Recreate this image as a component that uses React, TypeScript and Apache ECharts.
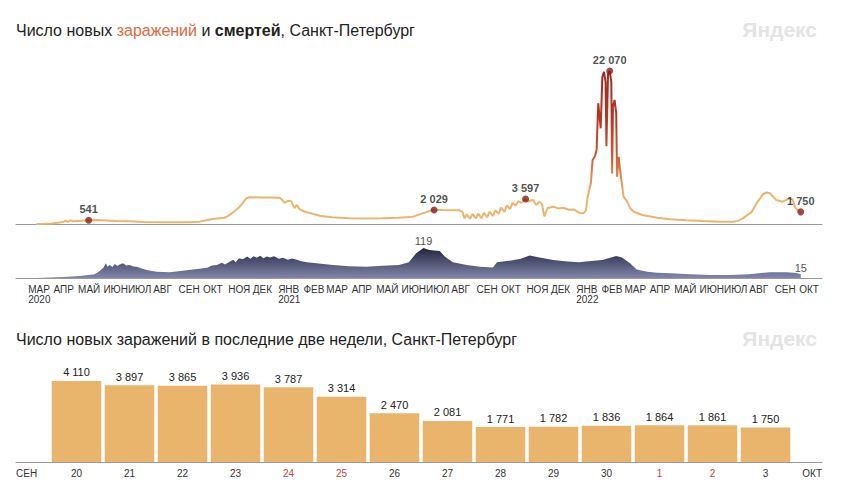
import React, { useEffect, useRef } from 'react';
import * as echarts from 'echarts';

const MONTHS = ['ЯНВ', 'ФЕВ', 'МАР', 'АПР', 'МАЙ', 'ИЮН', 'ИЮЛ', 'АВГ', 'СЕН', 'ОКТ', 'НОЯ', 'ДЕК'];

const caseDates = [
  '2020-03-11', '2020-03-20', '2020-03-30', '2020-04-08', '2020-04-13', '2020-04-16', '2020-04-18', '2020-04-22',
  '2020-04-25', '2020-04-29', '2020-05-05', '2020-05-10', '2020-05-14', '2020-05-23', '2020-06-05', '2020-06-17',
  '2020-07-03', '2020-07-19', '2020-08-13', '2020-09-03', '2020-09-15', '2020-09-27', '2020-10-13', '2020-10-27',
  '2020-10-31', '2020-11-06', '2020-11-15', '2020-11-23', '2020-11-27', '2020-12-10', '2020-12-20', '2021-01-03',
  '2021-01-06', '2021-01-09', '2021-01-13', '2021-01-17', '2021-01-21', '2021-01-24', '2021-01-27', '2021-02-02',
  '2021-02-08', '2021-02-21', '2021-03-08', '2021-03-29', '2021-04-19', '2021-05-09', '2021-05-29', '2021-06-15',
  '2021-06-27', '2021-07-06', '2021-07-11', '2021-07-21', '2021-08-11', '2021-08-15', '2021-08-17', '2021-08-20',
  '2021-08-24', '2021-08-27', '2021-08-31', '2021-09-03', '2021-09-07', '2021-09-10', '2021-09-14', '2021-09-17',
  '2021-09-21', '2021-09-24', '2021-09-28', '2021-10-01', '2021-10-05', '2021-10-08', '2021-10-12', '2021-10-15',
  '2021-10-19', '2021-10-22', '2021-10-26', '2021-10-31', '2021-11-03', '2021-11-09', '2021-11-13', '2021-11-17',
  '2021-11-20', '2021-11-23', '2021-11-27', '2021-12-04', '2021-12-10', '2021-12-16', '2021-12-23', '2021-12-29',
  '2022-01-05', '2022-01-10', '2022-01-13', '2022-01-15', '2022-01-19', '2022-01-21', '2022-01-24', '2022-01-26',
  '2022-01-28', '2022-01-31', '2022-02-02', '2022-02-04', '2022-02-06', '2022-02-07', '2022-02-09', '2022-02-11',
  '2022-02-13', '2022-02-14', '2022-02-15', '2022-02-17', '2022-02-19', '2022-02-20', '2022-02-22', '2022-02-24',
  '2022-02-28', '2022-03-04', '2022-03-08', '2022-03-12', '2022-03-23', '2022-04-10', '2022-04-26', '2022-05-16',
  '2022-06-05', '2022-06-26', '2022-07-12', '2022-07-18', '2022-07-24', '2022-08-04', '2022-08-11', '2022-08-18',
  '2022-08-22', '2022-08-26', '2022-09-03', '2022-09-11', '2022-09-19', '2022-09-23', '2022-09-26', '2022-09-29',
  '2022-10-03',
];
const caseValues = [
  0, 20, 80, 200, 330, 480, 300, 520,
  390, 450, 470, 520, 541, 570, 500, 430,
  380, 300, 250, 250, 270, 340, 720, 900,
  1100, 1600, 2500, 3700, 3850, 3830, 3840, 3800,
  3450, 3050, 3350, 3300, 2300, 2750, 2150, 1800,
  1600, 1200, 970, 830, 780, 820, 910, 1060,
  1540, 1900, 2029, 2010, 1980, 1700, 800, 1400,
  750, 1450, 800, 1500, 850, 1600, 950, 1800,
  1150, 2000, 1450, 2350, 1750, 2700, 2150, 3050,
  2650, 3300, 3050, 3597, 3250, 3460, 2750, 3220,
  2900, 1100, 2300, 2500, 2250, 2350, 2050, 2100,
  1600, 1550, 2000, 3900, 5900, 9200, 9800, 10700,
  17400, 13800, 21200, 21950, 20500, 11200, 21700, 22070,
  20500, 7300, 16900, 17900, 16000, 6800, 9700, 7500,
  3950, 3300, 2300, 1800, 1300, 900, 670, 530,
  430, 330, 320, 450, 820, 1750, 3200, 4300,
  4550, 4450, 3450, 3220, 3700, 3550, 2400, 2000,
  1750,
];

const highlightDates = ['2020-05-14', '2021-07-11', '2021-10-31', '2022-02-11', '2022-10-03'];
const highlightValues = [541, 2029, 3597, 22070, 1750];

const deathDates = [
  '2020-03-11', '2020-04-12', '2020-05-03', '2020-05-21', '2020-05-26', '2020-06-01', '2020-06-04', '2020-06-06',
  '2020-06-09', '2020-06-12', '2020-06-15', '2020-06-18', '2020-06-21', '2020-06-25', '2020-06-29', '2020-07-03',
  '2020-07-08', '2020-07-12', '2020-07-18', '2020-07-24', '2020-08-05', '2020-08-21', '2020-09-06', '2020-09-24',
  '2020-10-06', '2020-10-12', '2020-10-18', '2020-10-24', '2020-10-28', '2020-11-03', '2020-11-07', '2020-11-10',
  '2020-11-14', '2020-11-19', '2020-11-24', '2020-11-28', '2020-12-02', '2020-12-06', '2020-12-10', '2020-12-14',
  '2020-12-18', '2020-12-22', '2020-12-27', '2021-01-02', '2021-01-07', '2021-01-13', '2021-01-18', '2021-01-24',
  '2021-01-28', '2021-02-05', '2021-02-17', '2021-03-09', '2021-03-29', '2021-04-19', '2021-05-09', '2021-05-29',
  '2021-06-10', '2021-06-19', '2021-06-28', '2021-07-05', '2021-07-18', '2021-07-24', '2021-08-03', '2021-08-20',
  '2021-09-05', '2021-09-21', '2021-09-26', '2021-10-08', '2021-10-24', '2021-11-05', '2021-11-17', '2021-12-04',
  '2021-12-21', '2022-01-05', '2022-01-13', '2022-02-02', '2022-02-19', '2022-02-26', '2022-03-08', '2022-03-16',
  '2022-03-29', '2022-04-10', '2022-04-26', '2022-05-21', '2022-06-14', '2022-07-08', '2022-08-01', '2022-08-26',
  '2022-09-15', '2022-09-28', '2022-10-03',
];
const deathValues = [
  0, 4, 8, 15, 24, 41, 58, 45,
  52, 44, 55, 48, 54, 58, 50, 52,
  46, 45, 38, 32, 25, 23, 29, 36,
  41, 50, 52, 60, 54, 65, 72, 62,
  78, 74, 85, 76, 86, 80, 88, 78,
  85, 81, 86, 76, 80, 72, 77, 72,
  67, 62, 58, 52, 47, 45, 49, 52,
  62, 98, 119, 111, 107, 85, 62, 52,
  45, 42, 62, 67, 75, 89, 81, 71,
  65, 62, 65, 71, 87, 81, 58, 34,
  25, 21, 19, 15, 12, 12, 15, 23,
  23, 20, 15,
];
const deathLabelDates = ['2021-06-28', '2022-10-03'];
const deathLabelValues = [119, 15];

const barDays = ['20', '21', '22', '23', '24', '25', '26', '27', '28', '29', '30', '1', '2', '3'];
const barValues = [4110, 3897, 3865, 3936, 3787, 3314, 2470, 2081, 1771, 1782, 1836, 1864, 1861, 1750];
const weekendDays = ['24', '25', '1', '2'];
const edgeMonths = ['СЕН', 'ОКТ'];

const FONT = '"Liberation Sans", Arial, sans-serif';
const DAY = 86400000;
const fmt = (v: number) => String(v).replace(/\B(?=(\d{3})+(?!\d))/g, ' ');

export default function App() {
  const ref = useRef<HTMLDivElement>(null);
  useEffect(() => {
    if (!ref.current) return;
    const chart = echarts.init(ref.current, null, { renderer: 'svg' });
    const tMin = +new Date(2020, 1, 15);
    const tMax = +new Date(2022, 9, 29);
    const monthFormatter = (val: number) => {
      const d = new Date(val);
      if (d.getDate() !== 1) return '';
      const m = d.getMonth();
      const name = MONTHS[m];
      if (m === 0 || (d.getFullYear() === 2020 && m === 2)) return name + '\n' + d.getFullYear();
      return name;
    };
    const timeAxisBase = {
      type: 'time',
      min: tMin,
      max: tMax,
      minInterval: 28 * DAY,
      maxInterval: 31 * DAY,
      splitLine: { show: false },
      axisTick: { show: false },
      axisLine: { show: true, lineStyle: { color: '#9a9a9a', width: 1 } },
    };
    chart.setOption({
      animation: false,
      backgroundColor: '#ffffff',
      textStyle: { fontFamily: FONT },
      title: [
        {
          text: '{a|Число новых }{o|заражений}{a| и }{b|смертей}{a|, Санкт-Петербург}',
          left: 16,
          top: 20,
          padding: 0,
          textStyle: {
            fontWeight: 'normal',
            fontSize: 16,
            rich: {
              a: { fontSize: 16, color: '#222', fontWeight: 'normal', fontFamily: FONT, lineHeight: 20 },
              o: { fontSize: 16, color: '#e0693d', fontWeight: 'normal', fontFamily: FONT, lineHeight: 20 },
              b: { fontSize: 16, color: '#222', fontWeight: 'bold', fontFamily: FONT, lineHeight: 20 },
            },
          },
        },
        {
          text: 'Число новых заражений в последние две недели, Санкт-Петербург',
          left: 16,
          top: 329,
          padding: 0,
          textStyle: { fontSize: 16, color: '#222', fontWeight: 'normal', fontFamily: FONT, lineHeight: 20 },
        },
      ],
      graphic: [
        { type: 'text', right: 48, top: 19, style: { text: 'Яндекс', font: 'bold 21px ' + FONT, fill: '#e4e4e4' } },
        { type: 'text', right: 48, top: 328, style: { text: 'Яндекс', font: 'bold 21px ' + FONT, fill: '#e4e4e4' } },
      ],
      grid: [
        { left: 16, right: 43, top: 57.6, height: 166.4 },
        { left: 16, right: 43, top: 245.2, height: 32.8 },
        { left: 50, right: 73, top: 373.3, height: 88.7 },
        { left: 16, right: 43, top: 373.3, height: 88.7 },
      ],
      xAxis: [
        { ...timeAxisBase, gridIndex: 0, axisLabel: { show: false } },
        {
          ...timeAxisBase,
          gridIndex: 1,
          axisLabel: {
            formatter: monthFormatter,
            align: 'left',
            fontSize: 10,
            lineHeight: 10,
            color: '#333',
            margin: 6,
            fontFamily: FONT,
            hideOverlap: false,
          },
        },
        {
          type: 'category',
          gridIndex: 2,
          data: barDays,
          axisLine: { show: false },
          axisTick: { show: false },
          axisLabel: {
            interval: 0,
            fontSize: 10,
            margin: 6,
            fontFamily: FONT,
            color: (v: string) => (weekendDays.includes(v) ? '#c8423a' : '#333'),
          },
        },
        {
          type: 'category',
          gridIndex: 3,
          data: edgeMonths,
          boundaryGap: false,
          axisLine: { show: true, lineStyle: { color: '#9a9a9a', width: 1 } },
          axisTick: { show: false },
          axisLabel: {
            interval: 0,
            fontSize: 10,
            margin: 6,
            color: '#333',
            fontFamily: FONT,
            alignMinLabel: 'left',
            alignMaxLabel: 'right',
          },
        },
      ],
      yAxis: [
        { type: 'value', gridIndex: 0, min: 0, max: 24000, show: false },
        { type: 'value', gridIndex: 1, min: 0, max: 130, show: false },
        { type: 'value', gridIndex: 2, min: 0, max: 4500, show: false },
        { type: 'value', gridIndex: 3, min: 0, max: 1, show: false },
      ],
      series: [
        {
          type: 'line',
          xAxisIndex: 0,
          yAxisIndex: 0,
          data: caseDates.map((d, i) => [d, caseValues[i]]),
          showSymbol: false,
          z: 2,
          lineStyle: {
            width: 2,
            color: new echarts.graphic.LinearGradient(0, 0, 0, 1, [
              { offset: 0, color: '#9e2a1e' },
              { offset: 0.35, color: '#b83a26' },
              { offset: 0.52, color: '#c9502f' },
              { offset: 0.66, color: '#db7e43' },
              { offset: 0.78, color: '#e8ac66' },
              { offset: 0.85, color: '#ebb56e' },
              { offset: 1, color: '#ebb56e' },
            ]),
          },
        },
        {
          type: 'scatter',
          xAxisIndex: 0,
          yAxisIndex: 0,
          data: highlightDates.map((d, i) => [d, highlightValues[i]]),
          symbolSize: 7,
          z: 3,
          itemStyle: { color: '#8b1d1d' },
          label: {
            show: true,
            position: 'top',
            distance: 2,
            fontSize: 11,
            fontWeight: 'bold',
            color: '#222',
            fontFamily: FONT,
            formatter: (p: any) => fmt(p.value[1]),
          },
        },
        {
          type: 'line',
          xAxisIndex: 1,
          yAxisIndex: 1,
          data: deathDates.map((d, i) => [d, deathValues[i]]),
          showSymbol: false,
          lineStyle: { width: 0 },
          areaStyle: {
            opacity: 1,
            color: new echarts.graphic.LinearGradient(0, 0, 0, 1, [
              { offset: 0, color: '#23253e' },
              { offset: 1, color: '#8186ab' },
            ]),
          },
        },
        {
          type: 'scatter',
          xAxisIndex: 1,
          yAxisIndex: 1,
          data: deathLabelDates.map((d, i) => [d, deathLabelValues[i]]),
          symbolSize: 0.1,
          itemStyle: { color: 'rgba(0,0,0,0)' },
          label: {
            show: true,
            position: 'top',
            distance: 1,
            fontSize: 11,
            color: '#222',
            fontFamily: FONT,
            formatter: (p: any) => fmt(p.value[1]),
          },
        },
        {
          type: 'bar',
          xAxisIndex: 2,
          yAxisIndex: 2,
          data: barValues,
          barWidth: 49.5,
          itemStyle: { color: '#e9b46b' },
          label: {
            show: true,
            position: 'top',
            distance: 3,
            fontSize: 11,
            color: '#222',
            fontFamily: FONT,
            formatter: (p: any) => fmt(p.value),
          },
        },
      ],
    });
    return () => chart.dispose();
  }, []);
  return <div ref={ref} style={{ position: 'fixed', left: 0, top: 0, width: 865, height: 488 }} />;
}
